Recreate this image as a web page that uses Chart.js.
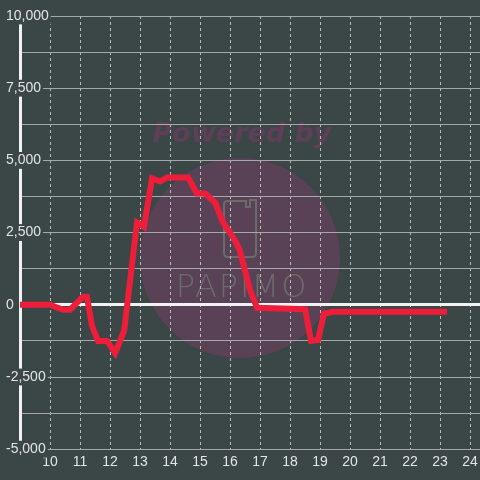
<!DOCTYPE html>
<html>
<head>
<meta charset="utf-8">
<script src="https://cdn.jsdelivr.net/npm/chart.js@4.4.0/dist/chart.umd.min.js"></script>
<style>
  html, body { margin: 0; padding: 0; background: #3b4646; }
</style>
</head>
<body>
<canvas id="chart" width="480" height="480"></canvas>
<script>
// hours of the day (x) and values (y)
const hours = [9.0, 10.0, 10.43, 10.67, 11.1, 11.23, 11.4, 11.6, 11.9, 12.17, 12.47, 12.9, 13.13,
    13.4, 13.67, 13.9, 14.6, 14.9, 15.17, 15.5, 15.77, 16.17, 16.33, 16.67, 16.9, 18.5,
    18.7, 18.93, 19.13, 19.43, 23.23];
const values = [0, 0, -170, -170, 280, 280, -730, -1250, -1250, -1670, -900, 2850, 2700,
    4375, 4270, 4410, 4410, 3850, 3850, 3540, 2850, 2220, 1875, 490, -100, -150,
    -1250, -1220, -310, -240, -240];
const xTicks = [10, 11, 12, 13, 14, 15, 16, 17, 18, 19, 20, 21, 22, 23, 24];
const yLabelTicks = [-5000, -2500, 0, 2500, 5000, 7500, 10000];

const bg = '#3b4646';
const labelColor = '#e4e4e4';
const labelFont = { family: 'Liberation Sans', size: 14 };

// background + "Powered by" watermark, under the grid
const watermark = {
    id: 'watermark',
    beforeDraw(chart) {
        const ctx = chart.ctx;
        ctx.save();
        ctx.fillStyle = bg;
        ctx.fillRect(0, 0, chart.width, chart.height);

        ctx.fillStyle = '#5a4256';
        ctx.beginPath();
        ctx.arc(240, 258, 100, 0, Math.PI * 2);
        ctx.fill();

        ctx.fillStyle = '#5e3f58';
        ctx.font = 'italic bold 27px "DejaVu Sans"';
        ctx.textAlign = 'center';
        ctx.textBaseline = 'middle';
        ctx.fillText('Powered by', 242, 135);

        // phone outline
        ctx.strokeStyle = '#6b6b6b';
        ctx.lineWidth = 2;
        ctx.beginPath();
        ctx.moveTo(228, 201);
        ctx.lineTo(246, 201);
        ctx.lineTo(246, 207);
        ctx.lineTo(250, 207);
        ctx.lineTo(250, 200);
        ctx.lineTo(256, 200);
        ctx.lineTo(256, 253);
        ctx.quadraticCurveTo(256, 257, 252, 257);
        ctx.lineTo(228, 257);
        ctx.quadraticCurveTo(224, 257, 224, 253);
        ctx.lineTo(224, 205);
        ctx.quadraticCurveTo(224, 201, 228, 201);
        ctx.stroke();

        ctx.fillStyle = '#6b6b6b';
        ctx.font = '300 32px "DejaVu Sans"';
        ctx.letterSpacing = '2px';
        ctx.fillText('PAPIMO', 242, 289);
        ctx.restore();
    }
};

const ctx = document.getElementById('chart').getContext('2d');
new Chart(ctx, {
    type: 'line',
    data: {
        datasets: [{
            data: hours.map((h, i) => ({ x: h, y: values[i] })),
            borderColor: '#ee1e3a',
            borderWidth: 6,
            pointRadius: 0,
            tension: 0,
            fill: false
        }]
    },
    options: {
        responsive: false,
        animation: false,
        layout: { padding: { left: 6, top: 16, right: 0, bottom: 4 } },
        plugins: {
            legend: { display: false },
            tooltip: { enabled: false }
        },
        scales: {
            x: {
                type: 'linear',
                min: 9,
                max: 24.33,
                afterBuildTicks: s => { s.ticks = xTicks.map(v => ({ value: v })); },
                afterFit: s => { s.paddingLeft = 0; s.paddingRight = 0; },
                ticks: { color: labelColor, font: labelFont, padding: 5, maxRotation: 0, autoSkip: false },
                grid: { color: '#bcbcbc', lineWidth: 1, drawTicks: false },
                border: { color: '#a8a8a8', width: 1, dash: [3, 3] }
            },
            y: {
                min: -5000,
                max: 10000,
                afterFit: s => { s.width = 14; },
                ticks: {
                    stepSize: 1250,
                    color: labelColor,
                    font: labelFont,
                    mirror: true,
                    crossAlign: 'near',
                    padding: -14,
                    callback: v => yLabelTicks.includes(v) ? v.toLocaleString('en-US') : '',
                    showLabelBackdrop: c => !!c.tick && yLabelTicks.includes(c.tick.value),
                    backdropColor: bg,
                    backdropPadding: { left: 1, right: 2, top: 0, bottom: 0 }
                },
                grid: {
                    color: c => c.tick && c.tick.value === 0 ? '#f2f2f2' : '#a8a8a8',
                    lineWidth: c => c.tick && c.tick.value === 0 ? 3 : 1,
                    drawTicks: false
                },
                border: { color: '#f2f2f2', width: 3 }
            }
        }
    },
    plugins: [watermark]
});
</script>
</body>
</html>
